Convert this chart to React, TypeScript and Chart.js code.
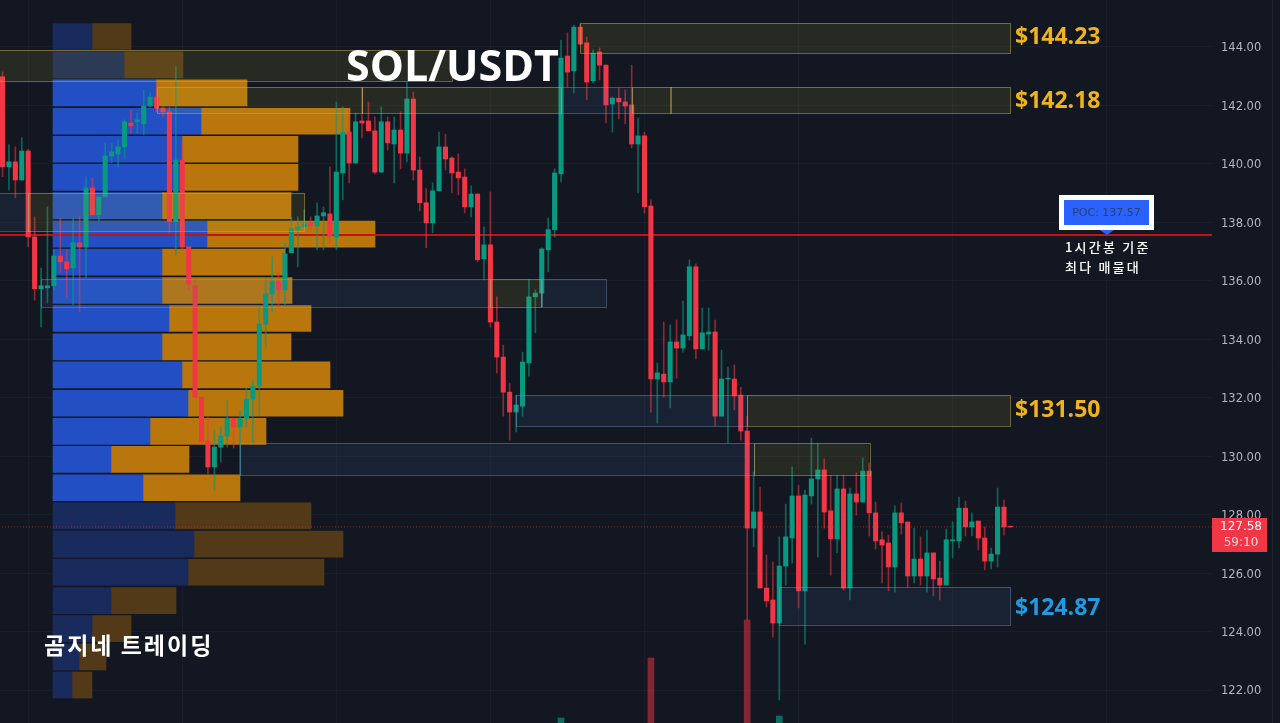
import { useEffect, useRef } from 'react';
import { Chart, registerables } from 'chart.js';

Chart.register(...registerables);

const opens = [
  142.98,139.90,140.07,139.45,140.44,137.50,135.73,135.76,135.83,136.85,
  136.65,136.44,137.30,137.16,139.18,138.26,138.87,140.27,140.34,140.58,
  141.40,141.44,141.37,141.98,142.29,141.91,141.78,138.02,140.13,137.16,
  135.83,132.02,130.52,129.63,130.31,130.69,131.30,131.00,131.30,131.95,
  132.40,134.52,135.55,135.96,135.69,136.96,137.75,137.85,137.98,137.88,
  138.22,138.29,137.50,139.69,141.09,140.03,141.47,141.47,141.13,139.72,
  141.44,140.68,141.16,140.37,142.22,139.79,138.67,137.98,139.08,140.58,
  140.20,139.72,139.55,138.53,138.97,136.75,137.23,134.59,133.39,132.19,
  131.51,131.71,133.19,135.45,135.58,137.06,137.75,139.66,143.69,143.18,
  144.68,144.14,142.84,143.83,143.38,142.05,142.25,142.12,142.02,140.68,
  140.96,138.56,132.64,132.81,132.54,133.91,133.70,134.12,136.48,133.67,
  134.18,134.25,131.37,132.64,132.64,132.09,130.86,127.54,128.09,125.49,
  125.08,124.29,126.24,127.20,128.64,125.39,128.64,129.22,129.53,128.13,
  127.17,128.88,125.49,128.71,128.43,129.49,128.06,127.14,127.03,126.21,
  128.06,127.75,125.90,126.48,125.90,126.69,125.83,125.59,127.10,127.10,
  128.22,127.58,127.78,127.20,126.41,126.65,128.26,127.60,
];
const closes = [
  139.90,140.07,139.45,140.44,137.50,135.73,135.83,135.83,136.85,136.65,
  136.41,137.30,137.16,139.18,138.26,138.87,140.27,140.41,140.58,141.44,
  141.30,141.51,141.98,142.29,141.91,141.78,138.02,140.13,137.16,135.89,
  132.02,130.52,129.63,130.31,130.69,131.30,131.00,131.30,131.95,132.40,
  134.52,135.55,135.96,135.69,136.92,137.78,137.85,137.98,137.88,138.22,
  138.33,137.53,139.72,141.09,140.03,141.44,141.40,141.13,139.72,141.44,
  140.72,141.16,140.37,142.22,139.79,138.67,137.98,139.08,140.58,140.17,
  139.69,139.52,138.53,138.97,136.72,137.23,134.59,133.39,132.19,131.51,
  131.75,133.22,135.45,135.58,137.09,137.75,139.69,143.62,143.14,144.68,
  144.10,142.80,143.79,143.38,142.02,142.25,142.12,141.98,140.68,140.96,
  138.53,132.64,132.85,132.54,133.91,133.70,134.15,136.48,133.67,134.22,
  134.25,131.37,132.64,132.67,132.06,130.86,127.54,128.09,125.49,125.05,
  124.29,126.24,127.24,128.64,125.39,128.67,129.22,129.53,128.09,127.17,
  128.88,125.49,128.71,128.43,129.49,128.06,127.10,126.96,126.21,128.06,
  127.72,125.90,126.48,125.90,126.69,125.80,125.59,127.14,127.14,128.22,
  127.58,127.75,127.20,126.41,126.65,128.26,127.58,127.58,
];
const highs = [
  143.15,140.65,140.58,140.89,140.50,138.19,136.44,138.53,137.06,138.15,
  137.06,138.15,138.19,139.56,139.52,138.87,140.72,140.72,140.82,141.51,
  141.85,141.74,142.53,142.43,142.70,141.95,141.95,143.32,140.72,137.16,
  136.07,132.02,131.34,130.89,131.00,131.92,131.30,131.58,132.33,132.61,
  135.10,136.10,136.82,136.28,137.30,138.19,138.19,138.43,138.19,138.67,
  138.53,139.90,142.12,141.95,141.85,141.74,142.60,142.12,141.61,141.95,
  141.61,141.61,141.78,142.80,142.46,140.24,139.15,139.35,141.09,141.02,
  140.24,140.34,139.83,139.25,138.97,137.85,139.04,135.45,133.80,132.50,
  132.09,133.56,136.03,135.69,137.13,138.15,139.83,144.24,144.48,144.75,
  144.79,144.34,143.90,143.97,143.38,142.29,142.60,142.53,143.38,141.57,
  141.09,138.77,133.19,134.59,134.49,134.66,135.31,136.72,136.58,135.07,
  135.07,134.66,133.63,133.05,133.12,132.36,131.37,129.46,128.94,126.62,
  126.38,127.24,128.36,129.63,129.01,128.84,130.62,130.42,129.91,129.35,
  129.35,129.35,128.91,129.43,129.94,129.77,128.43,127.41,127.30,128.30,
  128.40,127.75,127.54,127.24,127.47,126.69,126.41,127.51,127.75,128.60,
  128.46,128.06,127.78,127.58,126.86,128.91,128.50,127.62,
];
const lows = [
  139.56,139.11,138.84,139.45,137.16,135.34,134.42,135.24,135.69,136.28,
  135.45,135.17,134.93,136.10,138.26,138.02,138.87,140.03,139.90,140.20,
  141.06,141.06,140.99,141.95,141.78,141.61,137.64,136.89,137.06,135.69,
  132.02,130.45,129.39,128.84,129.80,130.31,130.28,129.35,131.00,130.45,
  131.41,133.73,134.93,135.07,135.17,136.96,136.48,137.85,137.75,137.06,
  137.06,137.30,137.06,138.77,139.35,140.03,140.89,141.13,139.66,139.72,
  140.48,139.35,139.83,140.07,139.45,138.39,137.13,137.64,139.08,139.79,
  139.01,138.94,138.32,138.19,136.65,136.03,134.42,132.85,131.37,130.55,
  130.83,131.37,132.74,134.22,135.10,136.31,137.50,139.38,142.63,142.43,
  144.10,142.19,142.77,142.87,141.40,141.09,141.54,141.37,140.55,139.01,
  138.32,131.51,131.13,132.02,131.65,132.67,133.56,133.97,133.33,133.67,
  133.63,131.03,131.37,130.45,131.58,130.55,124.40,126.90,125.49,124.84,
  123.81,121.66,125.59,126.35,124.81,123.57,128.36,126.55,127.54,125.93,
  126.69,125.42,125.08,127.98,128.43,127.27,126.83,125.66,125.39,125.35,
  127.34,125.52,125.66,125.59,125.35,125.22,125.08,125.59,126.52,126.86,
  127.27,127.27,126.79,126.11,126.14,126.21,127.30,127.56,
];

// volume pane, only the bars that poke into view
const volCandles = [87, 101, 116, 121];
const volValues = [5, 65, 103, 7];

// volume profile rows, top to bottom
const rowPrices = [
  144.36,143.39,142.43,141.46,140.50,139.54,138.57,137.60,136.64,135.67,134.71,133.74,
  132.78,131.81,130.85,129.89,128.92,127.96,126.99,126.03,125.06,124.10,123.13,122.17,
];
const rowBuy = [39,71,103,148,129,127,109,154,109,109,116,109,129,135,97,58,90,122,141,135,58,39,26,19];
const rowSell = [39,59,91,149,116,118,129,168,123,130,142,129,148,155,116,78,97,136,149,136,65,39,27,20];
const rowActive = [0,0,1,1,1,1,1,1,1,1,1,1,1,1,1,1,1,0,0,0,0,0,0,0];

// zones: y = yellow supply, b = blue demand
const zoneFrom = [90, -1, 24, 56, 87, 98, 104, -1, 4, 6, 76, 84, 80, 116, 37, 117, 121];
const zoneTo = [157, 70, 56, 87, 98, 104, 157, 4, 47, 76, 84, 94, 116, 157, 117, 135, 157];
const zoneTop = [144.82,143.90,142.63,142.63,142.63,142.63,142.63,139.01,139.01,136.06,136.06,136.06,132.09,132.09,130.45,130.45,125.52];
const zoneBottom = [143.79,142.84,141.74,141.74,141.74,141.74,141.74,137.71,137.71,135.11,135.11,135.11,131.03,131.03,129.36,129.36,124.23];
const zoneKind = ['y','y','y','y','b','y','y','b','y','b','y','b','b','y','b','y','b'];

const levelLabels = ['$144.23', '$142.18', '$131.50', '$124.87'];
const levelPrices = [144.34, 142.15, 131.58, 124.80];
const levelColors = ['#f0b41a', '#f0b41a', '#f0b41a', '#1e9be2'];

const pocPrice = 137.57;
const lastPrice = 127.58;
const gridCandles = [4, 28, 52, 76, 100, 124, 148, 172];

const UP = '#089981';
const DOWN = '#f23645';
const candles = opens.map((_, i) => i);
const isUp = (i: number) => closes[i] >= opens[i];

const overlayPlugin = {
  id: 'overlay',
  beforeDraw(chart: any) {
    const { ctx, width, height } = chart;
    ctx.save();
    ctx.fillStyle = '#131722';
    ctx.fillRect(0, 0, width, height);
    ctx.restore();
  },
  afterDatasetsDraw(chart: any) {
    const { ctx, scales } = chart;
    ctx.save();
    zoneFrom.forEach((from, i) => {
      const x0 = scales.x.getPixelForValue(from);
      const x1 = scales.x.getPixelForValue(zoneTo[i]);
      const y0 = scales.y.getPixelForValue(zoneTop[i]);
      const y1 = scales.y.getPixelForValue(zoneBottom[i]);
      const yellow = zoneKind[i] === 'y';
      ctx.fillStyle = yellow ? 'rgba(190,170,50,0.12)' : 'rgba(86,130,180,0.11)';
      ctx.strokeStyle = yellow ? 'rgba(196,176,80,0.5)' : 'rgba(130,160,200,0.4)';
      ctx.lineWidth = 1;
      ctx.fillRect(x0, y0, x1 - x0, y1 - y0);
      ctx.strokeRect(Math.round(x0) + 0.5, Math.round(y0) + 0.5, Math.round(x1 - x0), Math.round(y1 - y0));
    });
    ctx.restore();
  },
  afterDraw(chart: any) {
    const { ctx, scales } = chart;
    ctx.save();

    ctx.strokeStyle = 'rgba(255,255,255,0.06)';
    ctx.beginPath();
    ctx.moveTo(1272.5, 0);
    ctx.lineTo(1272.5, 723);
    ctx.stroke();

    ctx.textBaseline = 'middle';
    ctx.textAlign = 'left';

    levelLabels.forEach((label, i) => {
      ctx.font = '700 23px "Open Sans"';
      ctx.fillStyle = levelColors[i];
      ctx.fillText(label, 1015, scales.y.getPixelForValue(levelPrices[i]));
    });

    ctx.fillStyle = '#ffffff';
    ctx.font = '700 43px "Open Sans"';
    ctx.fillText('SOL/USDT', 346, 69);

    ctx.font = '700 23px "Noto Sans CJK KR"';
    ctx.letterSpacing = '2px';
    ctx.fillText('곰지네 트레이딩', 44, 645);
    ctx.letterSpacing = '0px';

    // POC tag
    const pocY = scales.y.getPixelForValue(pocPrice);
    ctx.fillStyle = '#ffffff';
    ctx.fillRect(1059, 195, 95, 35);
    ctx.fillStyle = '#2962ff';
    ctx.fillRect(1064, 200, 85, 25);
    ctx.beginPath();
    ctx.moveTo(1100, pocY - 5);
    ctx.lineTo(1114, pocY - 5);
    ctx.lineTo(1107, pocY);
    ctx.closePath();
    ctx.fill();
    ctx.fillStyle = '#2b3f78';
    ctx.font = '11px "DejaVu Sans"';
    ctx.textAlign = 'center';
    ctx.fillText('POC: 137.57', 1106.5, 213);

    ctx.fillStyle = '#ffffff';
    ctx.textAlign = 'left';
    ctx.font = '500 13px "Noto Sans CJK KR"';
    ctx.letterSpacing = '2.2px';
    ctx.fillText('1시간봉 기준', 1065, 247);
    ctx.fillText('최다 매물대', 1065, 267);
    ctx.letterSpacing = '0px';

    // last price tag
    ctx.fillStyle = '#f23645';
    ctx.fillRect(1212, 518, 55, 34);
    ctx.textAlign = 'center';
    ctx.font = '12px "DejaVu Sans"';
    ctx.fillStyle = '#ffffff';
    ctx.fillText(lastPrice.toFixed(2), 1241, 527);
    ctx.fillStyle = '#ffd5d9';
    ctx.fillText('59:10', 1241, 543);

    ctx.restore();
  },
};

export default function App() {
  const chartRef = useRef<HTMLCanvasElement>(null);

  useEffect(() => {
    document.body.style.margin = '0';
    document.body.style.background = '#131722';
    const ctx = chartRef.current?.getContext('2d');
    if (!ctx) return;

    const chart = new Chart(ctx, {
      type: 'bar',
      plugins: [overlayPlugin],
      data: {
        datasets: [
          {
            label: 'Buy volume',
            indexAxis: 'y',
            xAxisID: 'profile',
            yAxisID: 'y',
            grouped: false,
            order: 6,
            barThickness: 26,
            data: rowPrices.map((p, i) => ({ y: p, x: [0, rowBuy[i]] })),
            backgroundColor: rowActive.map(a => (a ? '#2250c4' : '#192b5c')),
          },
          {
            label: 'Sell volume',
            indexAxis: 'y',
            xAxisID: 'profile',
            yAxisID: 'y',
            grouped: false,
            order: 6,
            barThickness: 26,
            data: rowPrices.map((p, i) => ({ y: p, x: [rowBuy[i], rowBuy[i] + rowSell[i]] })),
            backgroundColor: rowActive.map(a => (a ? '#b8760c' : '#523a18')),
          },
          {
            label: 'Volume',
            xAxisID: 'x',
            yAxisID: 'vol',
            grouped: false,
            order: 5,
            barThickness: 6,
            data: volCandles.map((c, i) => ({ x: c, y: volValues[i] })),
            backgroundColor: volCandles.map(c => (isUp(c) ? 'rgba(8,153,129,0.65)' : 'rgba(242,54,69,0.5)')),
          },
          {
            type: 'line',
            label: 'POC',
            xAxisID: 'x',
            yAxisID: 'y',
            order: 4,
            data: [{ x: -1, y: pocPrice }, { x: 189, y: pocPrice }],
            borderColor: '#c41212',
            borderWidth: 2,
            pointRadius: 0,
          },
          {
            type: 'line',
            label: 'Last',
            xAxisID: 'x',
            yAxisID: 'y',
            order: 4,
            data: [{ x: -1, y: lastPrice }, { x: 189, y: lastPrice }],
            borderColor: 'rgba(242,54,69,0.55)',
            borderWidth: 1,
            borderDash: [1, 2],
            pointRadius: 0,
          },
          {
            label: 'Wicks',
            xAxisID: 'x',
            yAxisID: 'y',
            grouped: false,
            order: 2,
            barThickness: 1,
            data: candles.map(i => ({ x: i, y: [lows[i], highs[i]] })),
            backgroundColor: candles.map(i => (isUp(i) ? 'rgba(8,153,129,0.6)' : 'rgba(242,54,69,0.55)')),
          },
          {
            label: 'Bodies',
            xAxisID: 'x',
            yAxisID: 'y',
            grouped: false,
            order: 1,
            barThickness: 4.4,
            data: candles.map(i => ({ x: i, y: [opens[i], closes[i]] })),
            backgroundColor: candles.map(i => (isUp(i) ? UP : DOWN)),
          },
        ] as any,
      },
      options: {
        responsive: false,
        animation: false,
        layout: { padding: 0 },
        plugins: { legend: { display: false }, tooltip: { enabled: false } },
        scales: {
          x: {
            type: 'linear',
            axis: 'x',
            offset: false,
            min: -0.389,
            max: 188.4,
            grid: { color: 'rgba(255,255,255,0.03)', drawTicks: false, offset: false },
            border: { display: false },
            ticks: { display: false },
            afterBuildTicks: (s: any) => {
              s.ticks = gridCandles.map(value => ({ value }));
            },
            afterFit: (s: any) => {
              s.height = 0;
            },
          },
          profile: { type: 'linear', axis: 'x', offset: false, display: false, min: -53, max: 1159 },
          vol: { type: 'linear', axis: 'y', offset: false, display: false, min: 0, max: 723 },
          y: {
            type: 'linear',
            axis: 'y',
            position: 'right',
            offset: false,
            min: 120.871,
            max: 145.608,
            grid: { color: 'rgba(255,255,255,0.03)', drawTicks: false, offset: false },
            border: { display: false },
            ticks: {
              stepSize: 2,
              includeBounds: false,
              padding: 9,
              labelOffset: 1.5,
              color: '#b2b5be',
              font: { family: '"DejaVu Sans"', size: 11.5 },
              callback: (v: any) => Number(v).toFixed(2),
            },
            afterFit: (s: any) => {
              s.width = 68;
              s.paddingTop = 0;
              s.paddingBottom = 0;
            },
          },
        },
      } as any,
    });

    return () => chart.destroy();
  }, []);

  return <canvas ref={chartRef} width={1280} height={723} style={{ display: 'block' }} />;
}
